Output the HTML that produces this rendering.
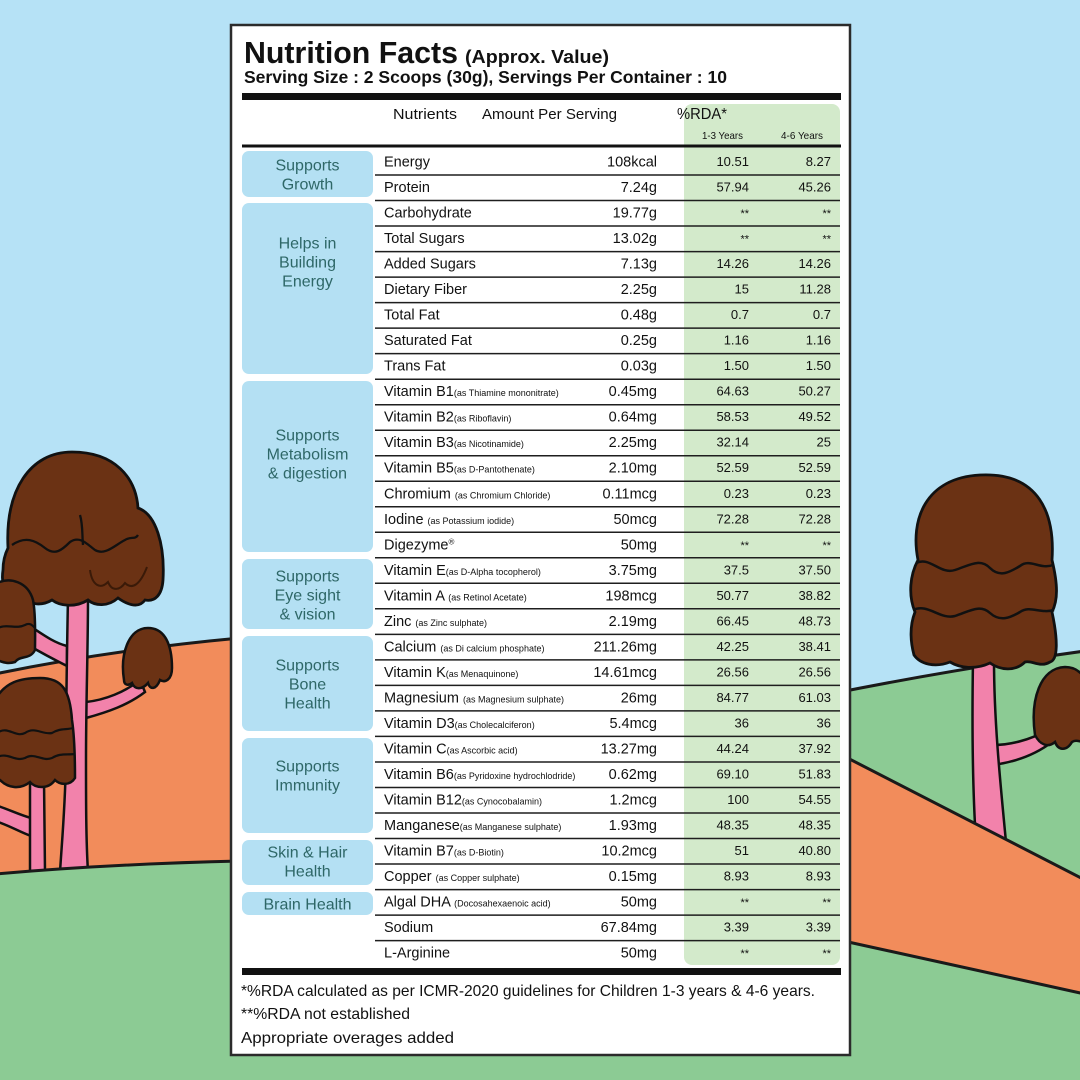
<!DOCTYPE html>
<html><head><meta charset="utf-8"><style>
html,body{margin:0;padding:0;background:#b6e2f6;}
svg{display:block;}
text{font-family:"Liberation Sans",sans-serif;}
</style></head><body>
<svg width="1080" height="1080" viewBox="0 0 1080 1080" xmlns="http://www.w3.org/2000/svg">
<rect x="0" y="0" width="1080" height="1080" fill="#b6e2f6"/>
<!-- LEFT BACKGROUND -->
<path d="M-5,674 Q110,650 240,638 L240,900 L-5,900 Z" fill="#f28c5b" stroke="#1a1a1a" stroke-width="3"/>
<!-- second tree trunk + branch -->
<path d="M31,818 C20,815 10,810 -2,806 L-2,822 C10,826 20,832 31,836 Z" fill="#f282ab" stroke="#111" stroke-width="2.5"/>
<path d="M30,780 L30,872 L45,872 L44,780 Z" fill="#f282ab" stroke="#111" stroke-width="2.5"/>
<!-- main trunk & branches -->
<path d="M67,646 C55,643 45,636 33,628 L28,645 C40,652 55,660 67,666 Z" fill="#f282ab" stroke="#111" stroke-width="2.5"/>
<path d="M86,702 C105,700 125,692 140,680 L145,692 C128,705 108,712 86,718 Z" fill="#f282ab" stroke="#111" stroke-width="2.5"/>
<path d="M68,596 C67,650 66,700 66,760 C65,810 62,840 60,872 L88,872 C86,840 86,800 86,760 C86,700 88,650 88,596 Z" fill="#f282ab" stroke="#111" stroke-width="2.5"/>
<!-- main canopy -->
<path d="M8,548 C5,490 30,452 72,452 C115,452 136,478 138,508 C156,514 165,545 163,580 C162,595 155,602 145,600 C138,610 125,603 118,598 C108,607 95,606 88,600 C75,608 60,606 52,600 C42,606 30,605 25,598 C10,602 0,590 3,570 C3,560 6,552 8,548 Z" fill="#6b3214" stroke="#111" stroke-width="2.8"/>
<path d="M12,545 C25,536 35,540 45,548 C55,556 62,550 70,542 C80,535 88,545 95,550 C105,556 115,545 125,540 C131,536 135,540 138,535" fill="none" stroke="#111" stroke-width="2.3"/>
<path d="M80,515 C83,525 82,535 83,545" fill="none" stroke="#111" stroke-width="2.3"/>
<path d="M90,570 C92,585 100,590 108,582 C112,592 120,590 125,583 C132,590 140,585 147,567" fill="none" stroke="#3a1a08" stroke-width="2"/>
<!-- left small canopy -->
<path d="M-5,584 C10,576 28,582 33,600 C36,615 35,640 35,650 C30,660 20,655 15,662 C5,665 0,660 -5,660 Z" fill="#6b3214" stroke="#111" stroke-width="2.5"/>
<path d="M-5,630 C5,622 15,630 25,625 C30,622 33,626 35,628" fill="none" stroke="#111" stroke-width="2.2"/>
<!-- right small canopy -->
<path d="M124,680 C120,655 128,628 148,628 C165,628 172,645 172,668 C172,680 165,683 160,680 C156,690 150,690 148,683 C142,690 135,690 132,683 C128,686 124,685 124,680 Z" fill="#6b3214" stroke="#111" stroke-width="2.5"/>
<!-- second tree canopy -->
<path d="M-5,700 C5,682 20,678 40,678 C62,678 70,690 72,720 C75,740 75,770 75,778 C70,786 60,785 55,780 C48,790 35,788 30,782 C20,790 8,788 0,780 L-5,780 Z" fill="#6b3214" stroke="#111" stroke-width="2.5"/>
<path d="M-3,733 C8,725 15,738 25,733 C35,726 42,735 52,733 C60,728 66,730 73,728" fill="none" stroke="#111" stroke-width="2.2"/>
<path d="M-3,757 C8,752 15,762 25,758 C35,752 42,762 52,758 C60,753 66,755 75,754" fill="none" stroke="#111" stroke-width="2.2"/>
<path d="M-5,874 Q110,864 240,861 L240,1085 L-5,1085 Z" fill="#8ccb94" stroke="#1a1a1a" stroke-width="3"/>

<!-- RIGHT BACKGROUND -->
<path d="M830,694 Q960,668 1085,651 L1085,1085 L830,1085 Z" fill="#8ccb94" stroke="#1a1a1a" stroke-width="3"/>
<path d="M993,745 C1010,745 1030,740 1048,730 L1052,742 C1035,755 1015,762 993,765 Z" fill="#f282ab" stroke="#111" stroke-width="2.5"/>
<path d="M973,660 C972,720 972,780 976,842 L1006,842 C1000,780 994,720 994,660 Z" fill="#f282ab" stroke="#111" stroke-width="2.5"/>
<path d="M918,560 C910,520 925,478 980,475 C1040,472 1055,515 1052,560 C1058,585 1058,600 1052,612 C1058,640 1058,660 1050,662 C1040,668 1032,660 1025,662 C1015,672 1000,670 990,663 C975,670 960,668 950,662 C935,668 920,664 914,655 C910,640 910,625 915,612 C908,595 910,575 918,560 Z" fill="#6b3214" stroke="#111" stroke-width="2.8"/>
<path d="M916,563 C930,556 940,575 955,570 C970,565 980,558 990,568 C1000,578 1010,572 1020,566 C1030,558 1040,570 1053,565" fill="none" stroke="#111" stroke-width="2.5"/>
<path d="M913,610 C928,603 940,620 955,616 C970,611 980,604 990,613 C1000,622 1010,618 1020,612 C1030,605 1040,614 1054,610" fill="none" stroke="#111" stroke-width="2.5"/>
<path d="M1035,735 C1030,700 1040,668 1065,667 C1080,667 1090,680 1090,700 L1090,740 C1082,745 1078,738 1072,742 C1066,752 1058,750 1055,742 C1048,748 1040,745 1035,735 Z" fill="#6b3214" stroke="#111" stroke-width="2.5"/>
<path d="M830,749 L1085,880 L1085,994 L830,938 Z" fill="#f28c5b"/>
<path d="M830,749 L1085,880 M830,938 L1085,994" stroke="#1a1a1a" stroke-width="3"/>
<rect x="0" y="1040" width="1080" height="40" fill="#8ccb94"/>

<!-- CARD -->
<rect x="231" y="25" width="619" height="1030" fill="#ffffff" stroke="#2b2b2b" stroke-width="2.5"/>
<text x="244" y="63" font-size="31" font-weight="bold" fill="#111" textLength="214" lengthAdjust="spacingAndGlyphs">Nutrition Facts</text>
<text x="465" y="63" font-size="18" font-weight="bold" fill="#111" textLength="144" lengthAdjust="spacingAndGlyphs">(Approx. Value)</text>
<text x="244" y="83" font-size="17.5" font-weight="bold" fill="#111" textLength="483" lengthAdjust="spacingAndGlyphs">Serving Size : 2 Scoops (30g), Servings Per Container : 10</text>
<rect x="242" y="93" width="599" height="7" fill="#111"/>
<rect x="684" y="104" width="156" height="861" rx="8" fill="#d3eacb"/>
<text x="393" y="119" font-size="15" fill="#111" textLength="64" lengthAdjust="spacingAndGlyphs">Nutrients</text>
<text x="482" y="119" font-size="15" fill="#111" textLength="135" lengthAdjust="spacingAndGlyphs">Amount Per Serving</text>
<text x="677" y="119" font-size="15.5" fill="#111" textLength="50" lengthAdjust="spacingAndGlyphs">%RDA*</text>
<text x="702" y="139" font-size="10.5" fill="#111" textLength="41" lengthAdjust="spacingAndGlyphs">1-3 Years</text>
<text x="781" y="139" font-size="10.5" fill="#111" textLength="42" lengthAdjust="spacingAndGlyphs">4-6 Years</text>
<rect x="242" y="144.5" width="599" height="3" fill="#111"/>

<!-- category boxes -->
<g fill="#b4e0f3">
<rect x="242" y="151" width="131" height="46" rx="7"/>
<rect x="242" y="203" width="131" height="171" rx="7"/>
<rect x="242" y="381" width="131" height="171" rx="7"/>
<rect x="242" y="559" width="131" height="70" rx="7"/>
<rect x="242" y="636" width="131" height="95" rx="7"/>
<rect x="242" y="738" width="131" height="95" rx="7"/>
<rect x="242" y="840" width="131" height="45" rx="7"/>
<rect x="242" y="892" width="131" height="23" rx="7"/>
</g>
<g font-size="16" fill="#2e6767" text-anchor="middle">
<text x="307.5" y="170.5">Supports</text>
<text x="307.5" y="189.5">Growth</text>
<text x="307.5" y="248.5">Helps in</text>
<text x="307.5" y="267.5">Building</text>
<text x="307.5" y="286.5">Energy</text>
<text x="307.5" y="440.5">Supports</text>
<text x="307.5" y="459.5">Metabolism</text>
<text x="307.5" y="478.5">&amp; digestion</text>
<text x="307.5" y="581.5">Supports</text>
<text x="307.5" y="600.5">Eye sight</text>
<text x="307.5" y="619.5">&amp; vision</text>
<text x="307.5" y="670.5">Supports</text>
<text x="307.5" y="689.5">Bone</text>
<text x="307.5" y="708.5">Health</text>
<text x="307.5" y="771.5">Supports</text>
<text x="307.5" y="790.5">Immunity</text>
<text x="307.5" y="857.5">Skin &amp; Hair</text>
<text x="307.5" y="876.5">Health</text>
<text x="307.5" y="909.5">Brain Health</text>
</g>

<!-- row separators -->
<g stroke="#1e1e1e" stroke-width="1.5">
<line x1="375" x2="840" y1="175" y2="175"/>
<line x1="375" x2="840" y1="200.5" y2="200.5"/>
<line x1="375" x2="840" y1="226" y2="226"/>
<line x1="375" x2="840" y1="251.6" y2="251.6"/>
<line x1="375" x2="840" y1="277.1" y2="277.1"/>
<line x1="375" x2="840" y1="302.6" y2="302.6"/>
<line x1="375" x2="840" y1="328.1" y2="328.1"/>
<line x1="375" x2="840" y1="353.6" y2="353.6"/>
<line x1="375" x2="840" y1="379.2" y2="379.2"/>
<line x1="375" x2="840" y1="404.7" y2="404.7"/>
<line x1="375" x2="840" y1="430.2" y2="430.2"/>
<line x1="375" x2="840" y1="455.7" y2="455.7"/>
<line x1="375" x2="840" y1="481.2" y2="481.2"/>
<line x1="375" x2="840" y1="506.8" y2="506.8"/>
<line x1="375" x2="840" y1="532.3" y2="532.3"/>
<line x1="375" x2="840" y1="557.8" y2="557.8"/>
<line x1="375" x2="840" y1="583.3" y2="583.3"/>
<line x1="375" x2="840" y1="608.8" y2="608.8"/>
<line x1="375" x2="840" y1="634.4" y2="634.4"/>
<line x1="375" x2="840" y1="659.9" y2="659.9"/>
<line x1="375" x2="840" y1="685.4" y2="685.4"/>
<line x1="375" x2="840" y1="710.9" y2="710.9"/>
<line x1="375" x2="840" y1="736.4" y2="736.4"/>
<line x1="375" x2="840" y1="762" y2="762"/>
<line x1="375" x2="840" y1="787.5" y2="787.5"/>
<line x1="375" x2="840" y1="813" y2="813"/>
<line x1="375" x2="840" y1="838.5" y2="838.5"/>
<line x1="375" x2="840" y1="864" y2="864"/>
<line x1="375" x2="840" y1="889.6" y2="889.6"/>
<line x1="375" x2="840" y1="915.1" y2="915.1"/>
<line x1="375" x2="840" y1="940.6" y2="940.6"/>
</g>

<!-- nutrient names -->
<g font-size="14.5" fill="#111">
<text x="384" y="166.5">Energy</text>
<text x="384" y="192">Protein</text>
<text x="384" y="217.5">Carbohydrate</text>
<text x="384" y="243.1">Total Sugars</text>
<text x="384" y="268.6">Added Sugars</text>
<text x="384" y="294.1">Dietary Fiber</text>
<text x="384" y="319.6">Total Fat</text>
<text x="384" y="345.1">Saturated Fat</text>
<text x="384" y="370.7">Trans Fat</text>
<text x="384" y="396.2">Vitamin B1<tspan font-size="9">(as Thiamine mononitrate)</tspan></text>
<text x="384" y="421.7">Vitamin B2<tspan font-size="9">(as Riboflavin)</tspan></text>
<text x="384" y="447.2">Vitamin B3<tspan font-size="9">(as Nicotinamide)</tspan></text>
<text x="384" y="472.7">Vitamin B5<tspan font-size="9">(as D-Pantothenate)</tspan></text>
<text x="384" y="498.3">Chromium <tspan font-size="9">(as Chromium Chloride)</tspan></text>
<text x="384" y="523.8">Iodine <tspan font-size="9">(as Potassium iodide)</tspan></text>
<text x="384" y="549.3">Digezyme<tspan font-size="8" dy="-5">®</tspan></text>
<text x="384" y="574.8">Vitamin E<tspan font-size="9">(as D-Alpha tocopherol)</tspan></text>
<text x="384" y="600.3">Vitamin A <tspan font-size="9">(as Retinol Acetate)</tspan></text>
<text x="384" y="625.9">Zinc <tspan font-size="9">(as Zinc sulphate)</tspan></text>
<text x="384" y="651.4">Calcium <tspan font-size="9">(as Di calcium phosphate)</tspan></text>
<text x="384" y="676.9">Vitamin K<tspan font-size="9">(as Menaquinone)</tspan></text>
<text x="384" y="702.4">Magnesium <tspan font-size="9">(as Magnesium sulphate)</tspan></text>
<text x="384" y="727.9">Vitamin D3<tspan font-size="9">(as Cholecalciferon)</tspan></text>
<text x="384" y="753.5">Vitamin C<tspan font-size="9">(as Ascorbic acid)</tspan></text>
<text x="384" y="779">Vitamin B6<tspan font-size="9">(as Pyridoxine hydrochlodride)</tspan></text>
<text x="384" y="804.5">Vitamin B12<tspan font-size="9">(as Cynocobalamin)</tspan></text>
<text x="384" y="830">Manganese<tspan font-size="9">(as Manganese sulphate)</tspan></text>
<text x="384" y="855.5">Vitamin B7<tspan font-size="9">(as D-Biotin)</tspan></text>
<text x="384" y="881.1">Copper <tspan font-size="9">(as Copper sulphate)</tspan></text>
<text x="384" y="906.6">Algal DHA <tspan font-size="9">(Docosahexaenoic acid)</tspan></text>
<text x="384" y="932.1">Sodium</text>
<text x="384" y="957.6">L-Arginine</text>
</g>

<!-- amounts -->
<g font-size="14.5" fill="#111" text-anchor="end">
<text x="657" y="166.5">108kcal</text>
<text x="657" y="192">7.24g</text>
<text x="657" y="217.5">19.77g</text>
<text x="657" y="243.1">13.02g</text>
<text x="657" y="268.6">7.13g</text>
<text x="657" y="294.1">2.25g</text>
<text x="657" y="319.6">0.48g</text>
<text x="657" y="345.1">0.25g</text>
<text x="657" y="370.7">0.03g</text>
<text x="657" y="396.2">0.45mg</text>
<text x="657" y="421.7">0.64mg</text>
<text x="657" y="447.2">2.25mg</text>
<text x="657" y="472.7">2.10mg</text>
<text x="657" y="498.3">0.11mcg</text>
<text x="657" y="523.8">50mcg</text>
<text x="657" y="549.3">50mg</text>
<text x="657" y="574.8">3.75mg</text>
<text x="657" y="600.3">198mcg</text>
<text x="657" y="625.9">2.19mg</text>
<text x="657" y="651.4">211.26mg</text>
<text x="657" y="676.9">14.61mcg</text>
<text x="657" y="702.4">26mg</text>
<text x="657" y="727.9">5.4mcg</text>
<text x="657" y="753.5">13.27mg</text>
<text x="657" y="779">0.62mg</text>
<text x="657" y="804.5">1.2mcg</text>
<text x="657" y="830">1.93mg</text>
<text x="657" y="855.5">10.2mcg</text>
<text x="657" y="881.1">0.15mg</text>
<text x="657" y="906.6">50mg</text>
<text x="657" y="932.1">67.84mg</text>
<text x="657" y="957.6">50mg</text>
</g>

<!-- RDA 1-3 -->
<g font-size="13" fill="#111" text-anchor="end">
<text x="749" y="166">10.51</text>
<text x="749" y="191.5">57.94</text>
<text x="749" y="217" font-size="11">**</text>
<text x="749" y="242.6" font-size="11">**</text>
<text x="749" y="268.1">14.26</text>
<text x="749" y="293.6">15</text>
<text x="749" y="319.1">0.7</text>
<text x="749" y="344.6">1.16</text>
<text x="749" y="370.2">1.50</text>
<text x="749" y="395.7">64.63</text>
<text x="749" y="421.2">58.53</text>
<text x="749" y="446.7">32.14</text>
<text x="749" y="472.2">52.59</text>
<text x="749" y="497.8">0.23</text>
<text x="749" y="523.3">72.28</text>
<text x="749" y="548.8" font-size="11">**</text>
<text x="749" y="574.3">37.5</text>
<text x="749" y="599.8">50.77</text>
<text x="749" y="625.4">66.45</text>
<text x="749" y="650.9">42.25</text>
<text x="749" y="676.4">26.56</text>
<text x="749" y="701.9">84.77</text>
<text x="749" y="727.4">36</text>
<text x="749" y="753">44.24</text>
<text x="749" y="778.5">69.10</text>
<text x="749" y="804">100</text>
<text x="749" y="829.5">48.35</text>
<text x="749" y="855">51</text>
<text x="749" y="880.6">8.93</text>
<text x="749" y="906.1" font-size="11">**</text>
<text x="749" y="931.6">3.39</text>
<text x="749" y="957.1" font-size="11">**</text>
</g>

<!-- RDA 4-6 -->
<g font-size="13" fill="#111" text-anchor="end">
<text x="831" y="166">8.27</text>
<text x="831" y="191.5">45.26</text>
<text x="831" y="217" font-size="11">**</text>
<text x="831" y="242.6" font-size="11">**</text>
<text x="831" y="268.1">14.26</text>
<text x="831" y="293.6">11.28</text>
<text x="831" y="319.1">0.7</text>
<text x="831" y="344.6">1.16</text>
<text x="831" y="370.2">1.50</text>
<text x="831" y="395.7">50.27</text>
<text x="831" y="421.2">49.52</text>
<text x="831" y="446.7">25</text>
<text x="831" y="472.2">52.59</text>
<text x="831" y="497.8">0.23</text>
<text x="831" y="523.3">72.28</text>
<text x="831" y="548.8" font-size="11">**</text>
<text x="831" y="574.3">37.50</text>
<text x="831" y="599.8">38.82</text>
<text x="831" y="625.4">48.73</text>
<text x="831" y="650.9">38.41</text>
<text x="831" y="676.4">26.56</text>
<text x="831" y="701.9">61.03</text>
<text x="831" y="727.4">36</text>
<text x="831" y="753">37.92</text>
<text x="831" y="778.5">51.83</text>
<text x="831" y="804">54.55</text>
<text x="831" y="829.5">48.35</text>
<text x="831" y="855">40.80</text>
<text x="831" y="880.6">8.93</text>
<text x="831" y="906.1" font-size="11">**</text>
<text x="831" y="931.6">3.39</text>
<text x="831" y="957.1" font-size="11">**</text>
</g>

<rect x="242" y="968" width="599" height="7" fill="#111"/>
<text x="241" y="996" font-size="16" fill="#111" textLength="574" lengthAdjust="spacingAndGlyphs">*%RDA calculated as per ICMR-2020 guidelines for Children 1-3 years &amp; 4-6 years.</text>
<text x="241" y="1019" font-size="16" fill="#111" textLength="169" lengthAdjust="spacingAndGlyphs">**%RDA not established</text>
<text x="241" y="1043" font-size="16" fill="#111" textLength="213" lengthAdjust="spacingAndGlyphs">Appropriate overages added</text>
</svg>
</body></html>
